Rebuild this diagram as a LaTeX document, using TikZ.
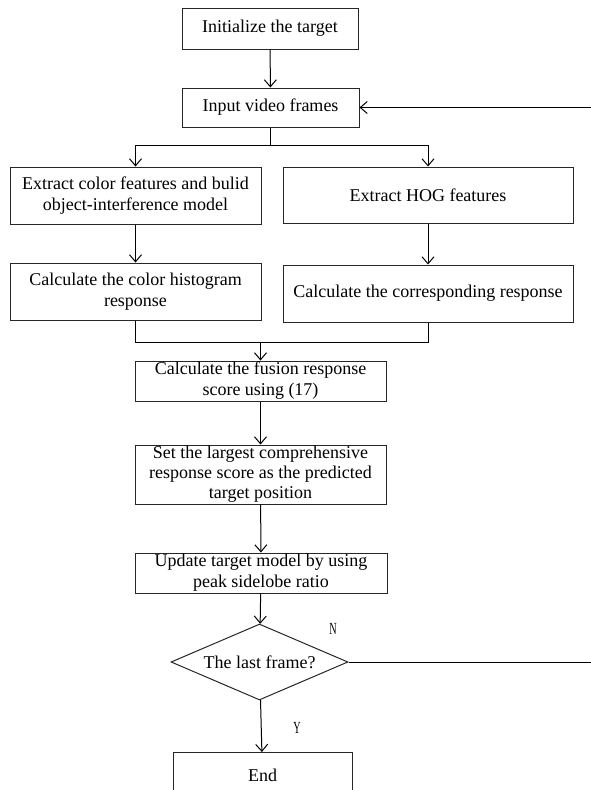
\documentclass[tikz,border=0pt]{standalone}
\usepackage{fontspec}
\setmainfont{Liberation Serif}
\usepackage{tikz}
\usetikzlibrary{arrows.meta,shapes.geometric}

\begin{document}
\begin{tikzpicture}[x=1pt,y=-1pt,line width=1pt,
		box/.style={draw=black!85,rectangle,inner sep=0pt,align=center,
			minimum width=#1,font=\fontsize{18}{21}\selectfont},
		arr/.style={-{Straight Barb[length=7pt,width=12pt]}},
		yn/.style={font=\fontsize{17}{18}\selectfont}]
						\useasboundingbox (0,0) rectangle (591,790);
						\clip (0,0) rectangle (591,790);
						\node[box=176pt,minimum height=41pt] (init) at (270,28.5) {Initialize the target};
						\node[box=177pt,minimum height=39pt] (input) at (270.5,107.5) {Input video frames};
			
						% two feature branches
						\node[box=251pt,minimum height=57pt] (color) at (135.5,195.5) {Extract color features and bulid\\object-interference model};
						\node[box=290pt,minimum height=56pt] (hog) at (428,195) {Extract HOG features};
						\node[box=251pt,minimum height=57pt] (hist) at (135.5,291.5) {Calculate the color histogram\\response};
						\node[box=290pt,minimum height=57pt] (corr) at (428,293.5) {Calculate the corresponding response};
			
						\node[box=251pt,minimum height=40pt] (fusion) at (260.5,381) {Calculate the fusion response\\score using (17)};
						\node[box=251pt,minimum height=59pt,font=\fontsize{18}{20}\selectfont] (largest) at (260.5,474.5) {Set the largest comprehensive\\response score as the predicted\\target position};
						\node[box=252pt,minimum height=40pt] (update) at (261,573) {Update target model by using\\peak sidelobe ratio};
						\node[draw=black!85,diamond,aspect=2.33,inner sep=0pt,minimum width=177pt,minimum height=76pt,font=\fontsize{18}{21}\selectfont] (last) at (259.5,662) {The last frame?};
						\node[box=179pt,minimum height=45pt,anchor=north] (end) at (262.5,752) {End};
			
						\coordinate (split) at (270.5,145);
						\coordinate (merge) at (260.5,342);
						\coordinate (loop) at (620,400);
			
						\draw[arr] (init) -- (input);
						\draw (input) -- (split);
						\draw[arr] (split) -| (color.north);
						\draw[arr] (split) -| (hog.north);
						\draw[arr] (color) -- (hist);
						\draw[arr] (hog) -- (corr);
						\draw (hist.south) |- (merge);
						\draw (corr.south) |- (merge);
						\draw[arr] (merge) -- (fusion);
						\draw[arr] (fusion) -- (largest);
						\draw[arr] (largest) -- (update);
						\draw[arr] (update) -- (last);
						\draw[arr] (last) -- (end);
						% back to the frames
						\draw[arr] (last.east) -| (loop) |- (input.east);
			
						\node[yn] (no) at (333,629) {\scalebox{0.6}[1]{N}};
						\node[yn] (yes) at (297,728) {\scalebox{0.6}[1]{Y}};
					\end{tikzpicture}
\end{document}
